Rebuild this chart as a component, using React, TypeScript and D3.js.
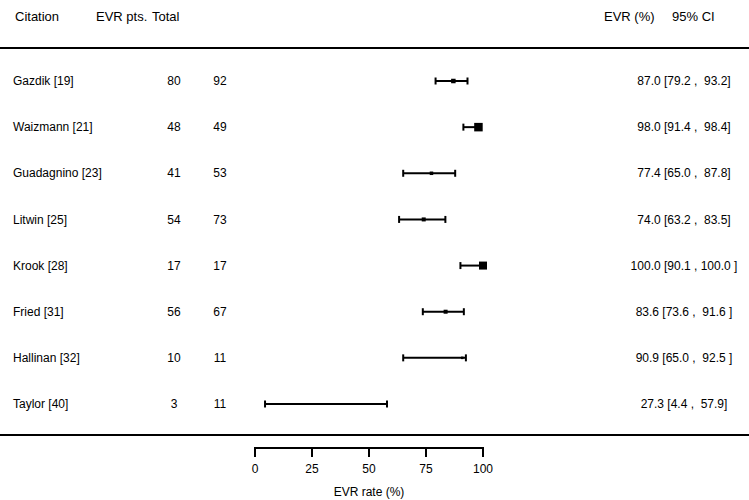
import React from "react";
import * as d3 from "d3";

const citations = ["Gazdik [19]", "Waizmann [21]", "Guadagnino [23]", "Litwin [25]", "Krook [28]", "Fried [31]", "Hallinan [32]", "Taylor [40]"];
const evrPts = [80, 48, 41, 54, 17, 56, 10, 3];
const totals = [92, 49, 53, 73, 17, 67, 11, 11];
const evrRate = [87.0, 98.0, 77.4, 74.0, 100.0, 83.6, 90.9, 27.3];
const ciLow = [79.2, 91.4, 65.0, 63.2, 90.1, 73.6, 65.0, 4.4];
const ciHigh = [93.2, 98.4, 87.8, 83.5, 100.0, 91.6, 92.5, 57.9];
const weights = [4.5, 8.5, 3.5, 4, 8, 4, 2.5, 1.5];
const ciLabels = ["87.0 [79.2 ,  93.2]", "98.0 [91.4 ,  98.4]", "77.4 [65.0 ,  87.8]", "74.0 [63.2 ,  83.5]", "100.0 [90.1 , 100.0 ]", "83.6 [73.6 ,  91.6 ]", "90.9 [65.0 ,  92.5 ]", "27.3 [4.4 ,  57.9]"];
const xTicks = [0, 25, 50, 75, 100];
const headers = { citation: "Citation", pts: "EVR pts.", total: "Total", evr: "EVR (%)", ci: "95% CI" };

const W = 749;
const H = 500;
const FONT = "'Liberation Sans', Arial, Helvetica, sans-serif";

export default function App() {
  const x = d3.scaleLinear().domain([0, 100]).range([255, 483]);
  const y = d3.scalePoint<number>().domain(d3.range(citations.length)).range([81, 404]);
  const box = d3.scaleLinear().domain([0, 8]).range([0, 8]);
  const fs = 12;
  const hfs = 13;
  return (
    <svg width={W} height={H} style={{ position: "absolute", left: 0, top: 0, background: "#fff" }} fontFamily={FONT}>
      <g fontSize={hfs} fill="#000">
        <text x={15} y={21}>{headers.citation}</text>
        <text x={96} y={21}>{headers.pts}</text>
        <text x={152} y={21}>{headers.total}</text>
        <text x={604} y={21}>{headers.evr}</text>
        <text x={672} y={21}>{headers.ci}</text>
      </g>
      <line x1={0} x2={W} y1={48} y2={48} stroke="#000" strokeWidth={2} />
      {citations.map((c, i) => {
        const yy = y(i)!;
        const s = box(weights[i]);
        return (
          <g key={c}>
            <text x={13} y={yy} dy="0.35em" fontSize={fs}>{c}</text>
            <text x={174} y={yy} dy="0.35em" fontSize={fs} textAnchor="middle">{evrPts[i]}</text>
            <text x={220} y={yy} dy="0.35em" fontSize={fs} textAnchor="middle">{totals[i]}</text>
            <text x={684} y={yy} dy="0.35em" fontSize={fs} textAnchor="middle" style={{ whiteSpace: "pre" }}>{ciLabels[i]}</text>
            <line x1={x(ciLow[i])} x2={x(ciHigh[i])} y1={yy} y2={yy} stroke="#000" strokeWidth={2} />
            <line x1={x(ciLow[i])} x2={x(ciLow[i])} y1={yy - 3.5} y2={yy + 3.5} stroke="#000" strokeWidth={2} />
            <line x1={x(ciHigh[i])} x2={x(ciHigh[i])} y1={yy - 3.5} y2={yy + 3.5} stroke="#000" strokeWidth={2} />
            <rect x={x(evrRate[i]) - s / 2} y={yy - s / 2} width={s} height={s} fill="#000" />
          </g>
        );
      })}
      <line x1={0} x2={W} y1={435} y2={435} stroke="#000" strokeWidth={2} />
      <g>
        <line x1={x(0)} x2={x(100)} y1={448} y2={448} stroke="#000" strokeWidth={2} />
        {xTicks.map((t) => (
          <g key={t}>
            <line x1={x(t)} x2={x(t)} y1={447} y2={457} stroke="#000" strokeWidth={2} />
            <text x={x(t)} y={469} dy="0.35em" fontSize={fs} textAnchor="middle">{t}</text>
          </g>
        ))}
        <text x={x(50)} y={492} dy="0.35em" fontSize={fs} textAnchor="middle">EVR rate (%)</text>
      </g>
    </svg>
  );
}
